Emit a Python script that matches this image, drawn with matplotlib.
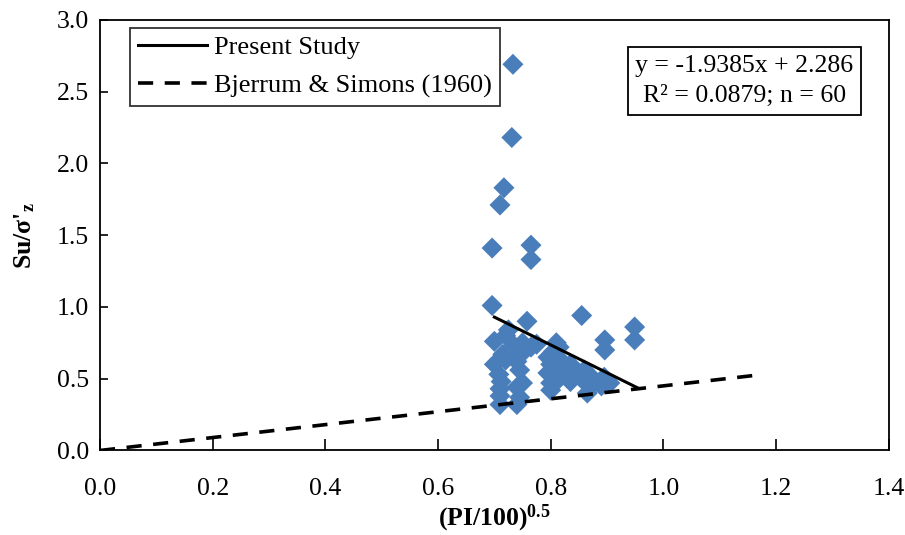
import numpy as np
import matplotlib
matplotlib.use("Agg")
import matplotlib.pyplot as plt

plt.rcParams['font.family'] = ['Liberation Serif', 'DejaVu Serif']
plt.rcParams['mathtext.fontset'] = 'custom'
plt.rcParams['mathtext.rm'] = 'Liberation Serif'
plt.rcParams['mathtext.it'] = 'Liberation Serif:italic'
plt.rcParams['mathtext.bf'] = 'Liberation Serif:bold'

# measured data, (PI/100)^0.5 vs Su/sigma'z
pi_x = [0.733, 0.731, 0.717, 0.710, 0.696, 0.765, 0.765, 0.696, 0.758, 0.855,
        0.896, 0.896, 0.949, 0.949,
        0.71, 0.71, 0.71, 0.712, 0.708, 0.70, 0.72, 0.715, 0.70, 0.72, 0.725,
        0.74, 0.745, 0.74, 0.75, 0.745, 0.74, 0.745, 0.735, 0.755, 0.75,
        0.765, 0.775,
        0.80, 0.80, 0.795, 0.80, 0.795, 0.805, 0.81, 0.815, 0.82, 0.82, 0.815,
        0.835, 0.84, 0.835, 0.85,
        0.865, 0.865, 0.87, 0.86, 0.88,
        0.89, 0.895, 0.905]
su_ratio = [2.69, 2.18, 1.83, 1.71, 1.41, 1.43, 1.33, 1.01, 0.90, 0.94,
            0.77, 0.70, 0.86, 0.77,
            0.32, 0.38, 0.43, 0.48, 0.53, 0.60, 0.63, 0.67, 0.76, 0.80, 0.84,
            0.32, 0.37, 0.44, 0.47, 0.56, 0.62, 0.68, 0.73, 0.70, 0.75,
            0.72, 0.74,
            0.42, 0.47, 0.54, 0.60, 0.65, 0.69, 0.75, 0.72, 0.62, 0.55, 0.50,
            0.48, 0.54, 0.60, 0.52,
            0.40, 0.46, 0.52, 0.56, 0.48,
            0.45, 0.51, 0.47]

# regression line (present study)
fit_x = [0.70, 0.955]
slope, intercept = -1.9385, 2.286

# Bjerrum & Simons (1960)
bj_x = [0.0, 1.16]
bj_k = 0.45

fs = 18.5

fig = plt.figure(figsize=(9.05, 5.35), dpi=100)
ax = fig.add_axes([0.1105, 0.158, 0.8715, 0.805])

ax.scatter(pi_x, su_ratio, marker='D', s=115, color='#4a7ebb', zorder=2,
           edgecolors='none')
fx = np.array(fit_x)
ax.plot(fx, slope * fx + intercept, color='black', lw=2.2, zorder=3,
        label='Present Study')
bx = np.array(bj_x)
ax.plot(bx, bj_k * bx, color='black', lw=2.6, ls=(0, (4.2, 3.2)), zorder=3,
        label='Bjerrum & Simons (1960)')

ax.set_xlim(0, 1.4)
ax.set_ylim(0, 3.0)
ax.set_xticks(np.arange(0, 1.41, 0.2))
ax.set_yticks(np.arange(0, 3.01, 0.5))
ax.set_xticklabels(['%.1f' % v for v in np.arange(0, 1.41, 0.2)])
ax.set_yticklabels(['%.1f' % v for v in np.arange(0, 3.01, 0.5)])
ax.tick_params(axis='x', direction='in', length=8, width=1.2, labelsize=fs, pad=20)
ax.tick_params(axis='y', direction='in', length=6, width=1.2, labelsize=fs, pad=8)
for sp in ax.spines.values():
    sp.set_linewidth(1.3)

ax.set_xlabel(r'(PI/100)$^{\mathbf{0.5}}$', fontsize=fs, fontweight='bold')
ax.xaxis.set_label_coords(0.5, -0.122)
ax.set_ylabel(r"Su/σ'$_{\mathbf{z}}$", fontsize=fs, fontweight='bold')
ax.yaxis.set_label_coords(-0.08, 0.5)

leg = ax.legend(loc='upper left', bbox_to_anchor=(0.038, 0.981), fontsize=19,
                frameon=True, fancybox=False, edgecolor='black',
                handlelength=2.6, borderpad=0.3, labelspacing=0.55,
                handletextpad=0.3, borderaxespad=0)
leg.get_frame().set_linewidth(1.3)

ax.text(0.817, 0.858, 'y = -1.9385x + 2.286\nR² = 0.0879; n = 60',
        transform=ax.transAxes, ha='center', va='center', fontsize=fs,
        linespacing=1.45, multialignment='center',
        bbox=dict(boxstyle='square,pad=0.3', fc='white', ec='black', lw=1.3))

fig.savefig('out.png', dpi=100)
